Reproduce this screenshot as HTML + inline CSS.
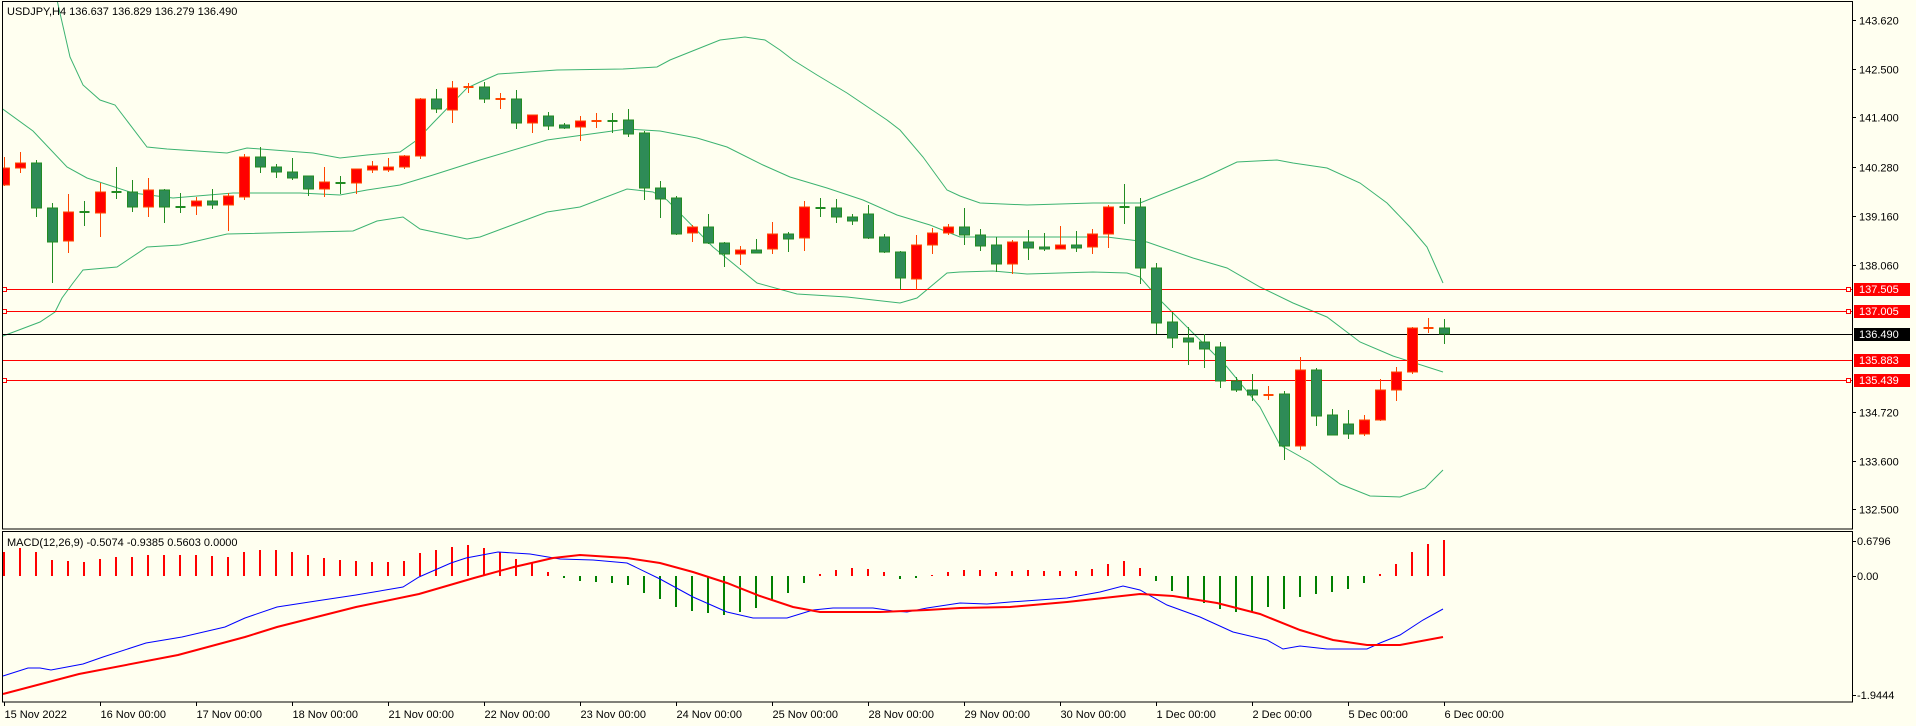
<!DOCTYPE html>
<html><head><meta charset="utf-8">
<style>
html,body{margin:0;padding:0;background:#FFFFF0;}
svg{display:block;font-family:"Liberation Sans",sans-serif;font-size:11px;}
</style></head>
<body>
<svg id="s" width="1916" height="726" viewBox="0 0 1916 726" xmlns="http://www.w3.org/2000/svg">
<rect x="0" y="0" width="1916" height="726" fill="#FFFFF0"/>
<defs><clipPath id="cp"><rect x="2" y="2" width="1850" height="527"/></clipPath></defs>
<g id="price" clip-path="url(#cp)"></g>
<g id="macd"></g>
<g id="axis"></g>
<rect x="2.5" y="1.5" width="1850" height="527.5" fill="none" stroke="#000"/>
<rect x="2.5" y="531.5" width="1850" height="170.5" fill="none" stroke="#000"/>
<text x="7" y="15" fill="#000">USDJPY,H4  136.637 136.829 136.279 136.490</text>
<text x="7" y="546" fill="#000">MACD(12,26,9) -0.5074 -0.9385 0.5603 0.0000</text>
</svg>
<script>
var NS="http://www.w3.org/2000/svg";
function el(p,t,a,txt){var e=document.createElementNS(NS,t);for(var k in a)e.setAttribute(k,a[k]);if(txt!==undefined)e.textContent=txt;p.appendChild(e);return e;}
var P=document.getElementById('price'),M=document.getElementById('macd'),A=document.getElementById('axis');
function X(i){return 3.5+16*i;}
function Y(p){return 289+(137.505-p)*44.05;}
function pl(g,pts,col,w){el(g,'polyline',{points:pts.map(function(q){return q.join(',')}).join(' '),fill:'none',stroke:col,'stroke-width':w});}
// bands
var up=[[0,-60],[50,0],[57,0],[70,57],[83,85],[100,100],[115,105],[147,147],[167,149],[227,153],[247,148],[313,153],[340,158],[367,155],[400,152],[417,140],[433,123],[467,88],[480,82],[498,74],[557,70],[623,69],[657,67],[670,60],[700,48],[720,40],[745,37],[765,40],[780,50],[793,60],[817,75],[847,93],[887,120],[900,130],[923,157],[947,190],[960,196],[980,203],[1027,205],[1093,203],[1140,203],[1160,195],[1203,178],[1237,162],[1277,160],[1293,163],[1327,168],[1360,183],[1387,203],[1410,227],[1427,247],[1443,283]];
var mid=[[0,107],[33,131],[67,167],[87,178],[133,193],[173,198],[233,193],[300,193],[340,195],[367,190],[400,185],[433,175],[480,160],[547,140],[627,129],[660,131],[697,138],[727,147],[763,165],[790,177],[827,188],[863,200],[897,215],[930,225],[960,237],[1107,237],[1147,242],[1193,258],[1227,268],[1260,287],[1293,303],[1327,317],[1360,342],[1393,356],[1443,372]];
var lo=[[3,336],[40,322],[55,312],[62,298],[73,283],[83,270],[117,267],[147,247],[180,245],[227,234],[353,231],[377,221],[403,217],[420,229],[467,239],[480,237],[547,212],[580,207],[627,189],[653,192],[667,200],[713,247],[757,283],[797,294],[847,297],[900,303],[917,298],[947,273],[960,272],[993,271],[1027,274],[1093,272],[1127,273],[1140,277],[1160,300],[1193,333],[1227,367],[1260,407],[1280,445],[1310,462],[1340,484],[1370,496],[1400,497],[1425,488],[1443,470]];
[up,mid,lo].forEach(function(b){pl(P,b,'#3CB371',1);});
// horizontal lines
[[137.505,1],[137.005,1],[135.883,0],[135.439,1]].forEach(function(l){var y=Math.round(Y(l[0]))+0.5;
 el(P,'line',{x1:2,x2:1852,y1:y,y2:y,stroke:'#FF0000','stroke-width':1});
 if(l[1]){el(P,'rect',{x:2.5,y:y-2,width:4,height:4,fill:'#FFFFF0',stroke:'#FF0000'});el(P,'rect',{x:1846.5,y:y-2,width:4,height:4,fill:'#FFFFF0',stroke:'#FF0000'});}
});
var by=Math.round(Y(136.49))+0.5;
el(P,'line',{x1:2,x2:1852,y1:by,y2:by,stroke:'#000','stroke-width':1});
// candles [o,c,h,l,(doji colour)]
var C=[[185,168,157,186],[168,163,152,173],[163,208,160,217],[208,242,203,283],[241,212,194,253],[212,212,201,226,'g'],[213,192,183,237],[192,192,167,199,'g'],[192,207,180,212],[207,190,178,217],[190,207,189,223],[207,207,193,213,'g'],[206,201,197,215],[201,205,189,209],[205,196,193,231],[197,157,154,200],[157,167,147,173],[167,172,164,178],[172,178,158,180],[176,189,176,196],[189,182,167,197],[183,183,176,194,'g'],[183,169,169,194],[170,166,161,173],[170,167,158,172],[167,156,155,169],[156,99,98,159],[99,109,89,113],[110,88,81,123],[87,87,83,93,'r'],[87,99,82,103],[99,99,93,109,'r'],[99,123,90,129],[123,115,115,133],[116,126,112,130],[125,128,123,129],[127,121,116,141],[121,121,113,128,'r'],[121,121,113,133,'g'],[120,134,109,137],[133,188,131,200],[188,199,181,218],[198,234,196,235],[233,227,225,242],[227,243,214,244],[243,254,242,267],[254,250,246,265],[250,253,239,253],[249,234,222,254],[234,239,232,252],[238,207,201,251],[208,208,198,217,'g'],[208,217,199,223],[217,221,214,225],[214,238,205,239],[237,252,234,253],[252,278,251,290],[279,245,235,290],[245,233,228,254],[233,227,224,235],[227,235,208,245],[235,246,229,251],[245,264,237,272],[264,242,240,274],[242,248,230,260],[247,249,233,251],[249,245,226,249],[245,248,231,252],[247,234,229,254],[234,207,205,248],[207,207,184,224,'g'],[207,268,198,284],[268,323,263,334],[322,338,312,348],[338,342,327,365],[342,349,334,368],[347,381,342,388],[381,390,377,392],[390,395,374,401],[395,395,386,400,'r'],[394,446,391,460],[446,370,357,450],[370,416,368,426],[415,435,409,435],[424,434,410,439],[434,420,415,436],[420,390,379,421],[390,372,367,401],[372,328,327,374],[328,328,318,333,'r'],[328,334,319,344]];
C.forEach(function(c,i){var x=Math.round(X(i))+0.5;var o=c[0],cl=c[1],h=c[2],l=c[3];
 var bull=c[4]?c[4]=='r':cl<o;var ed=bull?'#FF4500':'#228B22',fl=bull?'#FF0000':'#2E8B57';
 el(P,'line',{x1:x,x2:x,y1:h,y2:l,stroke:ed,'stroke-width':1});
 if(o==cl){el(P,'line',{x1:x-5,x2:x+5,y1:o,y2:o,stroke:ed,'stroke-width':2});}
 else{var t=Math.min(o,cl),b=Math.max(o,cl);el(P,'rect',{x:x-5,y:t,width:10,height:b-t,fill:fl,stroke:ed,'stroke-width':1});}
});
// MACD histogram
var H=[24,28,24,16,15,14,17,19,19,21,21,21,21,20,19,24,26,26,24,21,18,16,15,14,14,15,23,26,29,31,28,24,17,13,4,-2,-5,-6,-7,-9,-17,-23,-31,-35,-37,-39,-36,-32,-24,-17,-7,2,6,8,7,4,-3,-2,1,4,6,6,4,5,6,5,5,5,7,12,15,8,-5,-15,-22,-27,-33,-36,-36,-31,-33,-21,-18,-16,-13,-7,2,12,24,32,36];
H.forEach(function(h,i){var x=Math.round(X(i));el(M,'rect',{x:x-1,y:h>0?576-h:576,width:2,height:Math.abs(h)||1,fill:h>0?'#FF0000':'#008000'});});
pl(M,[[3,676],[28,668],[40,668],[51,670],[83,664],[103,657],[146,643],[182,637],[225,627],[245,618],[277,607],[316,601],[356,595],[403,587],[419,577],[451,563],[466,558],[498,552],[530,554],[560,559],[593,560],[627,563],[660,579],[693,597],[727,612],[753,618],[787,618],[813,610],[833,608],[873,608],[893,611],[907,612],[927,608],[960,603],[987,604],[1010,602],[1067,598],[1100,592],[1123,586],[1140,590],[1167,605],[1200,617],[1233,632],[1267,640],[1283,649],[1300,646],[1327,649],[1367,649],[1380,643],[1400,635],[1423,620],[1443,609]],'#0000FF',1);
pl(M,[[3,694],[79,674],[178,655],[245,637],[277,627],[356,607],[419,594],[474,578],[514,567],[553,558],[580,555],[627,558],[660,563],[693,572],[727,583],[760,596],[793,607],[820,612],[880,612],[927,610],[960,608],[1010,607],[1067,602],[1140,594],[1173,596],[1217,603],[1260,614],[1300,630],[1333,640],[1367,645],[1400,645],[1443,637]],'#FF0000',2);
// price axis
['143.620','142.500','141.400','140.280','139.160','138.060','134.720','133.600','132.500'].forEach(function(s){var y=Math.round(Y(+s))+0.5;el(A,'line',{x1:1852,x2:1856,y1:y,y2:y,stroke:'#000'});el(A,'text',{x:1859,y:y+4,fill:'#000'},s);});
[['137.505','#FF0000','#fff'],['137.005','#FF0000','#fff'],['136.490','#000','#fff'],['135.883','#FF0000','#fff'],['135.439','#FF0000','#fff']].forEach(function(a){var y=Math.round(Y(+a[0]));el(A,'rect',{x:1854,y:y-6,width:56,height:13,fill:a[1]});el(A,'text',{x:1859,y:y+4,fill:a[2]},a[0]);});
[['0.6796',541],['0.00',576],['-1.9444',695]].forEach(function(a){el(A,'line',{x1:1852,x2:1856,y1:a[1]+0.5,y2:a[1]+0.5,stroke:'#000'});el(A,'text',{x:1857,y:a[1]+4,fill:'#000'},a[0]);});
// time axis
var T=['15 Nov 2022','16 Nov 00:00','17 Nov 00:00','18 Nov 00:00','21 Nov 00:00','22 Nov 00:00','23 Nov 00:00','24 Nov 00:00','25 Nov 00:00','28 Nov 00:00','29 Nov 00:00','30 Nov 00:00','1 Dec 00:00','2 Dec 00:00','5 Dec 00:00','6 Dec 00:00'];
T.forEach(function(s,k){var x=Math.round(X(6*k))+0.5;el(A,'line',{x1:x,x2:x,y1:702,y2:706,stroke:'#000'});el(A,'text',{x:x,y:718,fill:'#000'},s);});
</script>
</body></html>
